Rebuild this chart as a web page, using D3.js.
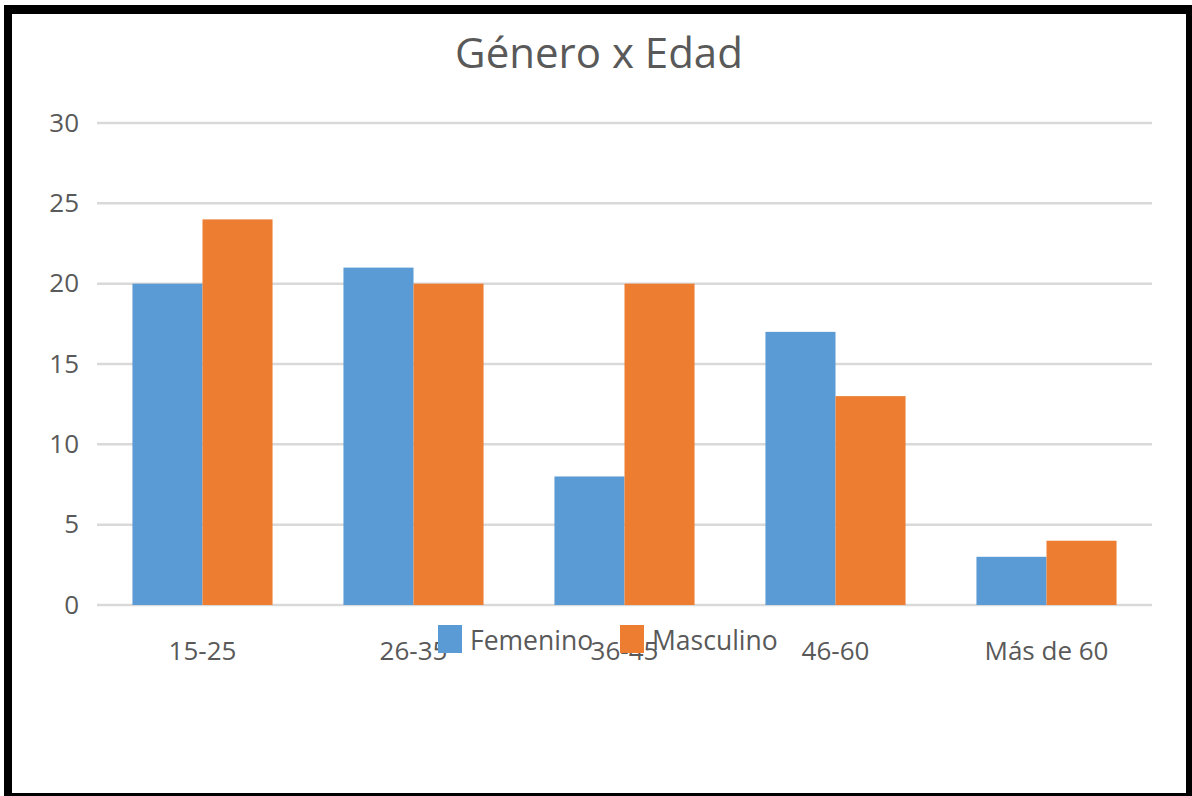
<!DOCTYPE html>
<html>
<head>
<meta charset="utf-8">
<script src="https://cdn.jsdelivr.net/npm/d3@7"></script>
<style>
  html, body { margin: 0; padding: 0; background: #fff; }
  svg { display: block; }
  text { font-family: "Open Sans", "Noto Sans", sans-serif; fill: #595959; }
</style>
</head>
<body>
<svg id="chart" width="1192" height="796"></svg>
<script>
// Age groups and counts per gender
const categories = ["15-25", "26-35", "36-45", "46-60", "Más de 60"];
const femenino = [20, 21, 8, 17, 3];
const masculino = [24, 20, 20, 13, 4];
const seriesNames = ["Femenino", "Masculino"];
const seriesColors = ["#5B9BD5", "#ED7D31"];
const yTicks = [0, 5, 10, 15, 20, 25, 30];
const title = "Género x Edad";

const svg = d3.select("#chart");

// Frame around the chart
svg.append("rect").attr("x", 4).attr("y", 5).attr("width", 1188).attr("height", 791).attr("fill", "#000");
svg.append("rect").attr("x", 12).attr("y", 14).attr("width", 1174).attr("height", 779).attr("fill", "#fff");

const plot = { left: 97, right: 1152, top: 123, bottom: 605 };

const x = d3.scaleBand()
  .domain(categories)
  .range([plot.left, plot.right])
  .paddingInner(0.336)
  .paddingOuter(0.168);

const xs = d3.scaleBand()
  .domain(seriesNames)
  .range([0, x.bandwidth()]);

const y = d3.scaleLinear().domain([0, 30]).range([plot.bottom, plot.top]);

// Gridlines
svg.append("g")
  .selectAll("line")
  .data(yTicks)
  .join("line")
  .attr("x1", plot.left).attr("x2", plot.right)
  .attr("y1", d => y(d)).attr("y2", d => y(d))
  .attr("stroke", "#D9D9D9")
  .attr("stroke-width", 2.5);

// Y axis labels
const yAxis = d3.axisLeft(y).tickValues(yTicks).tickSize(0).tickPadding(0);
svg.append("g")
  .attr("transform", `translate(79,0)`)
  .call(yAxis)
  .call(g => g.select(".domain").remove())
  .call(g => g.selectAll("text")
    .attr("font-size", 26)
    .attr("fill", "#5f5f5f")
    .attr("font-family", "'Open Sans', 'Noto Sans', sans-serif"));

// Bars
const rows = categories.map((c, i) => ({ cat: c, values: [femenino[i], masculino[i]] }));
const groups = svg.append("g")
  .selectAll("g")
  .data(rows)
  .join("g")
  .attr("transform", d => `translate(${x(d.cat)},0)`);

groups.selectAll("rect")
  .data(d => d.values.map((v, j) => ({ name: seriesNames[j], value: v, color: seriesColors[j] })))
  .join("rect")
  .attr("x", d => xs(d.name))
  .attr("y", d => y(d.value))
  .attr("width", xs.bandwidth())
  .attr("height", d => y(0) - y(d.value))
  .attr("fill", d => d.color);

// X axis labels
const xAxis = d3.axisBottom(x).tickSize(0).tickPadding(0);
svg.append("g")
  .attr("transform", `translate(0,${plot.bottom + 37})`)
  .call(xAxis)
  .call(g => g.select(".domain").remove())
  .call(g => g.selectAll("text")
    .attr("font-size", 26)
    .attr("fill", "#5f5f5f")
    .attr("font-family", "'Open Sans', 'Noto Sans', sans-serif"));

// Title
svg.append("text")
  .attr("x", 599)
  .attr("y", 68)
  .attr("text-anchor", "middle")
  .attr("font-size", 42)
  .text(title);

// Legend
const legendX = [438, 620];
const legend = svg.append("g")
  .selectAll("g")
  .data(seriesNames)
  .join("g")
  .attr("transform", (d, i) => `translate(${legendX[i]},625)`);
legend.append("rect")
  .attr("width", 24).attr("height", 28)
  .attr("fill", (d, i) => seriesColors[i]);
legend.append("text")
  .attr("x", 32).attr("y", 25)
  .attr("font-size", 26.5)
  .attr("fill", "#5f5f5f")
  .text(d => d);
</script>
</body>
</html>
